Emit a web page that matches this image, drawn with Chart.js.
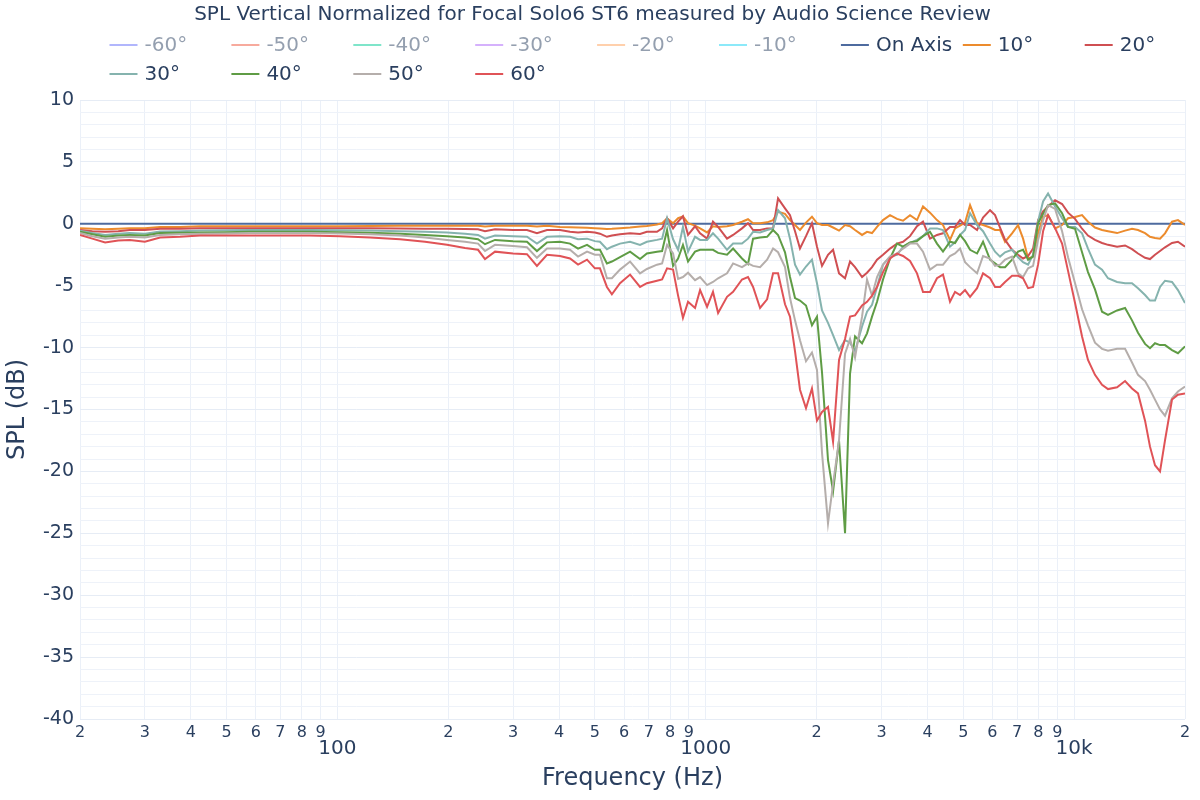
<!DOCTYPE html>
<html>
<head>
<meta charset="utf-8">
<title>SPL Vertical Normalized</title>
<script src="https://cdn.jsdelivr.net/npm/chart.js@4.4.1/dist/chart.umd.min.js"></script>
<style>
    html, body { margin: 0; padding: 0; background: #ffffff; }
    #caixa { width: 1200px; height: 800px; }
</style>
</head>
<body>
<div id="caixa"><canvas id="grafico" width="1200" height="800"></canvas></div>
<script>
// frequencias (Hz) medidas
const freqs = [
    20, 21.6, 23.4, 25.4, 27.3, 30, 33, 37.4, 42.3, 49.5,
    57.9, 69.8, 84.2, 101.6, 122.6, 147.9, 172.9, 198.3, 222, 240.8,
    251.5, 267.8, 299.7, 327, 348, 370.6, 402, 428, 450, 476,
    500, 516, 539, 556, 585, 623, 663, 692, 737, 761,
    785, 815, 841, 867, 895, 935, 965, 1008, 1046, 1080,
    1142, 1186, 1254, 1302, 1344, 1404, 1467, 1523, 1571, 1641,
    1693, 1747, 1802, 1871, 1942, 2004, 2068, 2147, 2216, 2300,
    2388, 2464, 2542, 2656, 2740, 2827, 2917, 3028, 3164, 3305,
    3432, 3585, 3745, 3888, 4062, 4243, 4406, 4603, 4750, 4901,
    5057, 5218, 5451, 5659, 5912, 6100, 6294, 6494, 6784, 7044,
    7268, 7499, 7737, 7982, 8236, 8497, 8878, 9275, 9627, 10058,
    10508, 10906, 11393, 11907, 12360, 13080, 13750, 14360, 14910, 15580,
    16070, 16580, 17110, 17650, 18440, 19140, 20000
];

const onAxis = [
    0, 0, 0, 0, 0, 0, 0, 0, 0, 0,
    0, 0, 0, 0, 0, 0, 0, 0, 0, 0,
    0, 0, 0, 0, 0, 0, 0, 0, 0, 0,
    0, 0, 0, 0, 0, 0, 0, 0, 0, 0,
    0, 0, 0, 0, 0, 0, 0, 0, 0, 0,
    0, 0, 0, 0, 0, 0, 0, 0, 0, 0,
    0, 0, 0, 0, 0, 0, 0, 0, 0, 0,
    0, 0, 0, 0, 0, 0, 0, 0, 0, 0,
    0, 0, 0, 0, 0, 0, 0, 0, 0, 0,
    0, 0, 0, 0, 0, 0, 0, 0, 0, 0,
    0, 0, 0, 0, 0, 0, 0, 0, 0, 0,
    0, 0, 0, 0, 0, 0, 0, 0, 0, 0,
    0, 0, 0, 0, 0, 0, 0
];

const deg10 = [
    -0.35, -0.4, -0.45, -0.4, -0.35, -0.35, -0.25, -0.25, -0.2, -0.2,
    -0.2, -0.2, -0.2, -0.2, -0.18, -0.15, -0.15, -0.15, -0.15, -0.15,
    -0.22, -0.15, -0.15, -0.15, -0.22, -0.15, -0.25, -0.27, -0.3, -0.32,
    -0.35, -0.38, -0.42, -0.4, -0.35, -0.3, -0.22, -0.17, -0.05, 0.05,
    0.45, 0.05, 0.45, 0.6, 0.05, -0.15, -0.37, -0.7, -0.2, -0.25,
    -0.2, -0.1, 0.17, 0.37, 0.05, 0.05, 0.12, 0.3, 0.97, 0.8,
    0.3, -0.1, -0.5, 0.1, 0.57, 0.05, -0.1, -0.1, -0.3, -0.55,
    -0.1, -0.2, -0.5, -0.9, -0.65, -0.75, -0.25, 0.3, 0.7, 0.4,
    0.25, 0.7, 0.3, 1.4, 0.9, 0.3, -0.1, -1.3, -0.37, -0.15,
    0.1, 1.5, 0.05, -0.1, -0.3, -0.5, -0.5, -1.45, -0.77, -0.1,
    -1.2, -2.8, -2.65, -0.77, 0.57, 0.7, -0.37, -0.1, 0.45, 0.55,
    0.7, 0.17, -0.3, -0.5, -0.6, -0.75, -0.55, -0.4, -0.5, -0.75,
    -1.05, -1.15, -1.2, -0.77, 0.17, 0.3, -0.1
];

const deg20 = [
    -0.5, -0.6, -0.65, -0.6, -0.5, -0.5, -0.4, -0.4, -0.35, -0.35,
    -0.35, -0.35, -0.35, -0.35, -0.35, -0.38, -0.4, -0.4, -0.42, -0.45,
    -0.6, -0.45, -0.5, -0.5, -0.75, -0.5, -0.5, -0.65, -0.7, -0.65,
    -0.7, -0.8, -1.05, -0.95, -0.85, -0.77, -0.82, -0.65, -0.65, -0.37,
    0.45, -0.37, 0.17, 0.6, -0.9, -0.2, -0.77, -1.2, 0.17, -0.25,
    -1.2, -0.9, -0.37, 0.05, -0.5, -0.5, -0.37, -0.37, 2.05, 1.25,
    0.7, -0.6, -2.0, -1.0, 0.05, -1.85, -3.4, -2.5, -2.1, -4.0,
    -4.4, -3.05, -3.5, -4.3, -3.95, -3.5, -2.9, -2.5, -2.0, -1.6,
    -1.45, -1.0, -0.2, 0.17, -1.2, -0.9, -0.77, -0.25, -0.25, 0.3,
    -0.1, -0.1, -0.5, 0.5, 1.1, 0.7, -0.3, -1.3, -2.1, -2.5,
    -2.8, -2.6, -2.0, 0.3, 1.0, 1.4, 1.9, 1.6, 0.9, 0.4,
    -0.4, -0.95, -1.3, -1.55, -1.7, -1.85, -1.75, -2.05, -2.4, -2.75,
    -2.85, -2.5, -2.2, -1.9, -1.55, -1.45, -1.85
];

const deg30 = [
    -0.55, -0.75, -0.9, -0.8, -0.75, -0.8, -0.62, -0.6, -0.55, -0.52,
    -0.5, -0.5, -0.5, -0.52, -0.55, -0.6, -0.65, -0.7, -0.8, -0.9,
    -1.2, -0.95, -1.0, -1.05, -1.6, -1.05, -1.0, -1.05, -1.25, -1.2,
    -1.4, -1.45, -2.05, -1.85, -1.6, -1.45, -1.7, -1.45, -1.3, -1.2,
    0.45, -1.25, -2.1, -0.25, -2.25, -1.05, -1.3, -1.3, -0.77, -1.2,
    -2.1, -1.6, -1.6, -1.2, -0.65, -0.7, -0.5, -0.37, 1.1, 0.45,
    -1.2, -3.3, -4.1, -3.45, -2.9, -4.8, -7.0, -8.0, -9.0, -10.2,
    -9.4, -9.6, -10.3, -8.3, -7.1, -6.55, -5.1, -3.3, -2.65, -2.5,
    -1.85, -1.55, -1.3, -1.0, -0.37, -0.37, -0.5, -1.85, -1.5, -0.9,
    -0.5, 0.85, -0.1, -0.6, -1.6, -2.25, -2.65, -2.3, -2.1, -2.7,
    -3.1, -3.3, -2.5, 0.2, 1.8, 2.45, 1.4, 0.45, -0.25, -0.25,
    -0.77, -2.0, -3.3, -3.7, -4.4, -4.7, -4.8, -4.8, -5.2, -5.75,
    -6.2, -6.2, -5.1, -4.6, -4.7, -5.35, -6.4
];

const deg40 = [
    -0.65, -0.85, -1.05, -0.95, -0.9, -0.95, -0.75, -0.72, -0.7, -0.68,
    -0.65, -0.65, -0.65, -0.68, -0.72, -0.8, -0.9, -1.0, -1.1, -1.25,
    -1.65, -1.3, -1.4, -1.45, -2.2, -1.5, -1.45, -1.6, -2.0, -1.7,
    -2.1, -2.1, -3.2, -3.05, -2.7, -2.25, -2.85, -2.4, -2.25, -2.2,
    -0.5, -3.4, -2.8, -1.7, -3.05, -2.25, -2.1, -2.1, -2.1, -2.35,
    -2.5, -2.0, -2.8, -3.25, -1.2, -1.1, -1.05, -0.5, -0.9, -2.3,
    -4.3, -6.0, -6.2, -6.6, -8.2, -7.5, -12.0, -19.1, -21.6, -17.5,
    -25.0, -12.1, -9.1, -9.65, -8.85, -7.5, -6.3, -4.5, -2.8, -1.6,
    -1.85, -1.5, -1.4, -1.0, -0.65, -1.6, -2.25, -1.45, -1.55, -0.9,
    -1.4, -2.1, -2.4, -1.45, -2.9, -3.2, -3.5, -3.5, -2.9, -2.25,
    -2.1, -2.9, -2.65, 0.05, 0.8, 1.5, 1.65, 0.85, -0.25, -0.4,
    -2.3, -3.9, -5.3, -7.1, -7.35, -7.0, -6.8, -7.8, -8.8, -9.7,
    -10.05, -9.65, -9.8, -9.8, -10.2, -10.45, -9.9
];

const deg50 = [
    -0.75, -1.0, -1.2, -1.1, -1.05, -1.1, -0.9, -0.85, -0.8, -0.78,
    -0.75, -0.75, -0.75, -0.78, -0.85, -0.95, -1.1, -1.3, -1.45, -1.6,
    -2.2, -1.7, -1.8, -1.9, -2.75, -2.0, -2.0, -2.1, -2.65, -2.25,
    -2.5, -2.5, -4.4, -4.4, -3.7, -3.05, -4.0, -3.65, -3.3, -3.2,
    -1.7, -2.4, -4.45, -4.3, -3.95, -4.55, -4.3, -4.95, -4.7, -4.4,
    -4.0, -3.2, -3.5, -3.2, -3.4, -3.5, -2.9, -2.0, -2.3, -3.5,
    -6.0, -7.8, -9.4, -11.1, -10.4, -11.8, -18.5, -24.2, -21.0, -17.5,
    -10.5, -9.3, -10.8, -7.5, -4.5, -5.8, -4.3, -3.3, -2.65, -2.4,
    -2.0, -1.6, -1.6, -2.25, -3.7, -3.3, -3.3, -2.6, -2.4, -2.0,
    -3.1, -3.5, -4.0, -2.6, -2.8, -3.4, -3.3, -2.9, -2.65, -4.0,
    -4.3, -3.6, -3.4, -1.3, 0.3, 1.5, 1.2, -0.6, -2.7, -4.8,
    -6.9, -8.2, -9.6, -10.1, -10.25, -10.1, -10.1, -11.2, -12.2, -12.7,
    -13.4, -14.2, -15.0, -15.5, -14.1, -13.55, -13.15
];

const deg60 = [
    -0.9, -1.2, -1.5, -1.35, -1.3, -1.45, -1.1, -1.05, -0.95, -0.95,
    -0.95, -0.95, -0.95, -1.0, -1.1, -1.25, -1.45, -1.7, -1.95, -2.1,
    -2.85, -2.25, -2.4, -2.45, -3.4, -2.5, -2.6, -2.8, -3.3, -2.9,
    -3.6, -3.6, -5.1, -5.7, -4.8, -4.1, -5.1, -4.8, -4.6, -4.5,
    -3.6, -3.7, -5.8, -7.6, -6.3, -6.8, -5.35, -6.7, -5.5, -7.2,
    -5.9, -5.5, -4.5, -4.3, -5.1, -6.8, -6.1, -4.0, -4.0, -6.5,
    -7.5, -10.3, -13.4, -14.9, -13.3, -15.9, -15.2, -14.8, -17.6, -11.0,
    -9.3, -7.5, -7.4, -6.6, -6.3, -5.8, -5.1, -3.9, -2.8, -2.4,
    -2.6, -3.0, -4.0, -5.5, -5.5, -4.4, -4.1, -6.3, -5.5, -5.75,
    -5.35, -5.9, -5.2, -4.0, -4.4, -5.1, -5.1, -4.7, -4.2, -4.2,
    -4.4, -5.2, -5.1, -3.3, -0.6, 0.7, -0.35, -1.6, -3.8, -6.4,
    -9.1, -11.0, -12.2, -13.0, -13.35, -13.2, -12.7, -13.3, -13.7, -15.9,
    -18.0, -19.5, -20.0, -17.5, -14.2, -13.8, -13.7
];

// series (as negativas ficam so na legenda)
const angleLabels = ['-60°', '-50°', '-40°', '-30°', '-20°', '-10°', 'On Axis', '10°', '20°', '30°', '40°', '50°', '60°'];
const angleColors = ['#636efa', '#ef553b', '#00cc96', '#ab63fa', '#ffa15a', '#19d3f3',
    '#4e6b9f', '#ec8b2d', '#cf4f52', '#85b3ae', '#5f9c45', '#b5aeab', '#e05357'];
const angleHidden = [true, true, true, true, true, true, false, false, false, false, false, false, false];
const angleData = [[], [], [], [], [], [], onAxis, deg10, deg20, deg30, deg40, deg50, deg60];

// ticks dos eixos
const freqTicks = [20, 30, 40, 50, 60, 70, 80, 90, 100, 200, 300, 400, 500, 600, 700, 800, 900,
    1000, 2000, 3000, 4000, 5000, 6000, 7000, 8000, 9000, 10000, 20000];
const freqTickLabels = ['2', '3', '4', '5', '6', '7', '8', '9', '100', '2', '3', '4', '5', '6', '7', '8', '9',
    '1000', '2', '3', '4', '5', '6', '7', '8', '9', '10k', '2'];
const freqMajor = [100, 1000, 10000];
const splLabels = [-40, -35, -30, -25, -20, -15, -10, -5, 0, 5, 10];

const fonte = "'DejaVu Sans', Verdana, sans-serif";
const corTexto = '#2a3f5f';
const corGrade = '#ebf0f8';

Chart.defaults.font.family = fonte;
Chart.defaults.color = corTexto;

// legenda no estilo plotly (colunas fixas)
const legendaPlotly = {
    id: 'legendaPlotly',
    afterDraw(chart) {
        const ctx = chart.ctx;
        ctx.save();
        ctx.font = '20px ' + fonte;
        ctx.textBaseline = 'middle';
        ctx.textAlign = 'left';
        ctx.lineWidth = 2;
        chart.data.datasets.forEach(function (ds, i) {
            const col = i % 9;
            const row = Math.floor(i / 9);
            const x = 109.5 + col * 121.9;
            const y = 45 + row * 29;
            ctx.globalAlpha = ds.hidden ? 0.5 : 1;
            ctx.strokeStyle = ds.borderColor;
            ctx.beginPath();
            ctx.moveTo(x, y);
            ctx.lineTo(x + 28, y);
            ctx.stroke();
            ctx.fillStyle = corTexto;
            ctx.fillText(ds.label, x + 35, y + 1);
        });
        ctx.restore();
    }
};

const datasets = angleLabels.map(function (nome, i) {
    return {
        label: nome,
        data: angleData[i].map(function (v, k) { return { x: freqs[k], y: v }; }),
        borderColor: angleColors[i],
        backgroundColor: angleColors[i],
        borderWidth: 2,
        pointRadius: 0,
        tension: 0,
        hidden: angleHidden[i],
        order: angleLabels.length - i
    };
});

const ctxGrafico = document.getElementById('grafico');
var grafico = new Chart(ctxGrafico, {
    type: 'line',
    data: { datasets: datasets },
    plugins: [legendaPlotly],
    options: {
        responsive: false,
        devicePixelRatio: 1,
        animation: false,
        events: [],
        layout: { padding: { left: 0, right: 15, top: 0, bottom: 0 } },
        plugins: {
            legend: { display: false },
            tooltip: { enabled: false },
            title: {
                display: true,
                text: 'SPL Vertical Normalized for Focal Solo6 ST6 measured by Audio Science Review',
                color: corTexto,
                font: { family: fonte, size: 20, weight: 'normal' },
                padding: { top: 3, bottom: 73 }
            }
        },
        scales: {
            x: {
                type: 'logarithmic',
                min: 20,
                max: 20000,
                afterBuildTicks: function (scale) {
                    scale.ticks = freqTicks.map(function (v) { return { value: v }; });
                },
                afterFit: function (scale) { scale.height = 81; },
                ticks: {
                    autoSkip: false,
                    maxRotation: 0,
                    padding: 4,
                    color: corTexto,
                    font: function (c) {
                        if (c.tick && freqMajor.includes(c.tick.value)) {
                            return { family: fonte, size: 20, lineHeight: '17px' };
                        }
                        return { family: fonte, size: 16 };
                    },
                    callback: function (value) {
                        const k = freqTicks.indexOf(value);
                        if (k < 0) return '';
                        if (freqMajor.includes(value)) return ['', freqTickLabels[k]];
                        return freqTickLabels[k];
                    }
                },
                grid: {
                    color: corGrade,
                    lineWidth: 1,
                    drawTicks: false
                },
                border: { display: false },
                title: {
                    display: true,
                    text: 'Frequency (Hz)',
                    color: corTexto,
                    font: { family: fonte, size: 24 },
                    padding: { top: 0, bottom: 6.6 }
                }
            },
            y: {
                type: 'linear',
                min: -40,
                max: 10,
                afterFit: function (scale) { scale.width = 80; },
                ticks: {
                    stepSize: 1,
                    autoSkip: false,
                    padding: 6,
                    color: corTexto,
                    font: { family: fonte, size: 19 },
                    callback: function (value) {
                        return splLabels.includes(value) ? String(value) : '';
                    }
                },
                grid: {
                    color: function (c) {
                        return c.tick && splLabels.includes(c.tick.value) ? '#e6ecf5' : '#eef2f9';
                    },
                    lineWidth: 1,
                    drawTicks: false
                },
                border: { display: false },
                title: {
                    display: true,
                    text: 'SPL (dB)',
                    color: corTexto,
                    font: { family: fonte, size: 24 },
                    padding: { top: 3, bottom: 0 }
                }
            }
        }
    }
});
</script>
</body>
</html>
